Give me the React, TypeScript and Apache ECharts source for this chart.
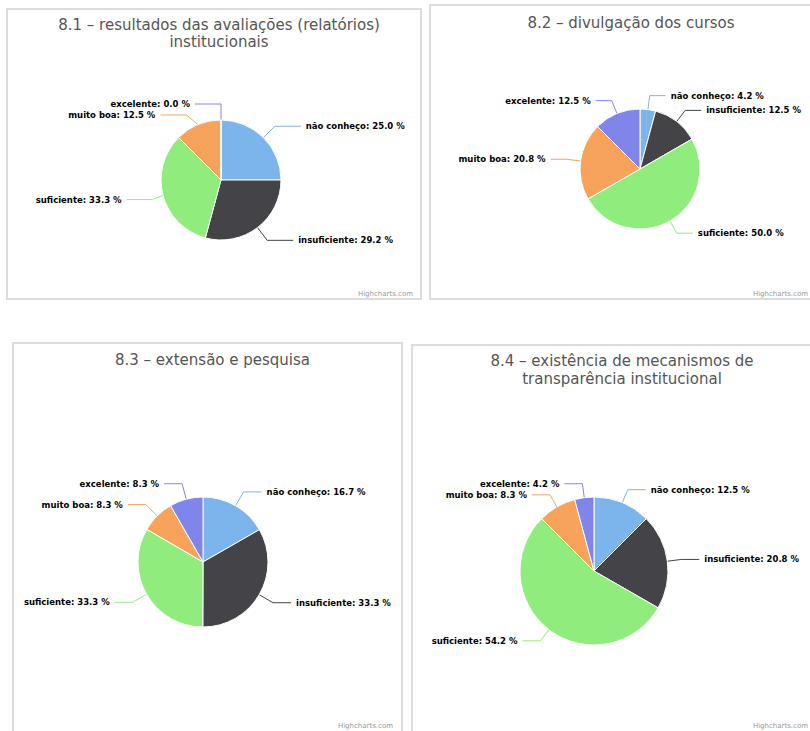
import React, { useEffect, useRef } from "react";
import * as echarts from "echarts";

const categories = ["não conheço", "insuficiente", "suficiente", "muito boa", "excelente"];
const colors = ["#7cb5ec", "#434348", "#90ed7d", "#f7a35c", "#8085e9"];

const titles = [
  "8.1 – resultados das avaliações (relatórios)\ninstitucionais",
  "8.2 – divulgação dos cursos",
  "8.3 – extensão e pesquisa",
  "8.4 – existência de mecanismos de\ntransparência institucional",
];

const values81 = [25.0, 29.2, 33.3, 12.5, 0.0];
const values82 = [4.2, 12.5, 50.0, 20.8, 12.5];
const values83 = [16.7, 33.3, 33.3, 8.3, 8.3];
const values84 = [12.5, 20.8, 54.2, 8.3, 4.2];

const allValues = [values81, values82, values83, values84];

// layout (px)
const panels = [
  { x: 7, y: 9, w: 414, h: 290, cx: 221, cy: 180, r: 60, ty: 11, lh: 17, len: 16, len2: 26, crx: 413, cry: 297 },
  { x: 430, y: 5, w: 392, h: 294, cx: 640, cy: 169, r: 60, ty: 9, lh: 17, len: 14, len2: 16, crx: 808, cry: 297 },
  { x: 13, y: 343, w: 389, h: 400, cx: 203, cy: 562, r: 65, ty: 346, lh: 18, len: 16, len2: 18, crx: 393, cry: 729 },
  { x: 412, y: 345, w: 410, h: 400, cx: 594, cy: 571, r: 74, ty: 347, lh: 18, len: 14, len2: 18, crx: 808, cry: 729 },
];

export default function App() {
  const ref = useRef<HTMLDivElement>(null);
  useEffect(() => {
    if (!ref.current) return;
    const chart = echarts.init(ref.current, undefined, { renderer: "svg" });

    const graphics: any[] = [];
    panels.forEach((p) => {
      graphics.push({
        type: "rect",
        shape: { x: p.x, y: p.y, width: p.w, height: p.h },
        style: { fill: "#fff", stroke: "#dcdcdc", lineWidth: 2 },
        z: -10,
      });
      graphics.push({
        type: "text",
        x: p.crx,
        y: p.cry,
        style: {
          text: "Highcharts.com",
          fill: "#999",
          fontSize: 7,
          fontFamily: "DejaVu Sans",
          align: "right",
          verticalAlign: "bottom",
        },
      });
    });

    const titleOpts = panels.map((p, i) => ({
      text: titles[i],
      left: p.x + p.w / 2,
      top: p.ty,
      textAlign: "center",
      textStyle: {
        fontFamily: "DejaVu Sans",
        fontSize: 15,
        fontWeight: "normal",
        color: "#555",
        lineHeight: p.lh,
      },
    }));

    const series = panels.map((p, i) => ({
      type: "pie",
      center: [p.cx, p.cy],
      radius: p.r,
      startAngle: 90,
      clockwise: true,
      avoidLabelOverlap: true,
      itemStyle: { borderColor: "#fff", borderWidth: 1 },
      label: {
        show: true,
        overflow: "none",
        formatter: (params: any) => `${params.name}: ${Number(params.value).toFixed(1)} %`,
        color: "#000",
        fontFamily: "DejaVu Sans",
        fontSize: 8.5,
        fontWeight: "bold",
      },
      labelLine: { show: true, length: p.len, length2: p.len2, lineStyle: { width: 1 } },
      emphasis: { disabled: true },
      data: categories.map((c, k) => ({
        name: c,
        value: allValues[i][k],
        itemStyle: { color: colors[k] },
      })),
    }));

    chart.setOption({
      animation: false,
      backgroundColor: "#fff",
      title: titleOpts,
      graphic: graphics,
      series,
    });
    return () => chart.dispose();
  }, []);

  return (
    <div
      ref={ref}
      style={{ position: "absolute", left: 0, top: 0, width: 810, height: 731 }}
    />
  );
}
